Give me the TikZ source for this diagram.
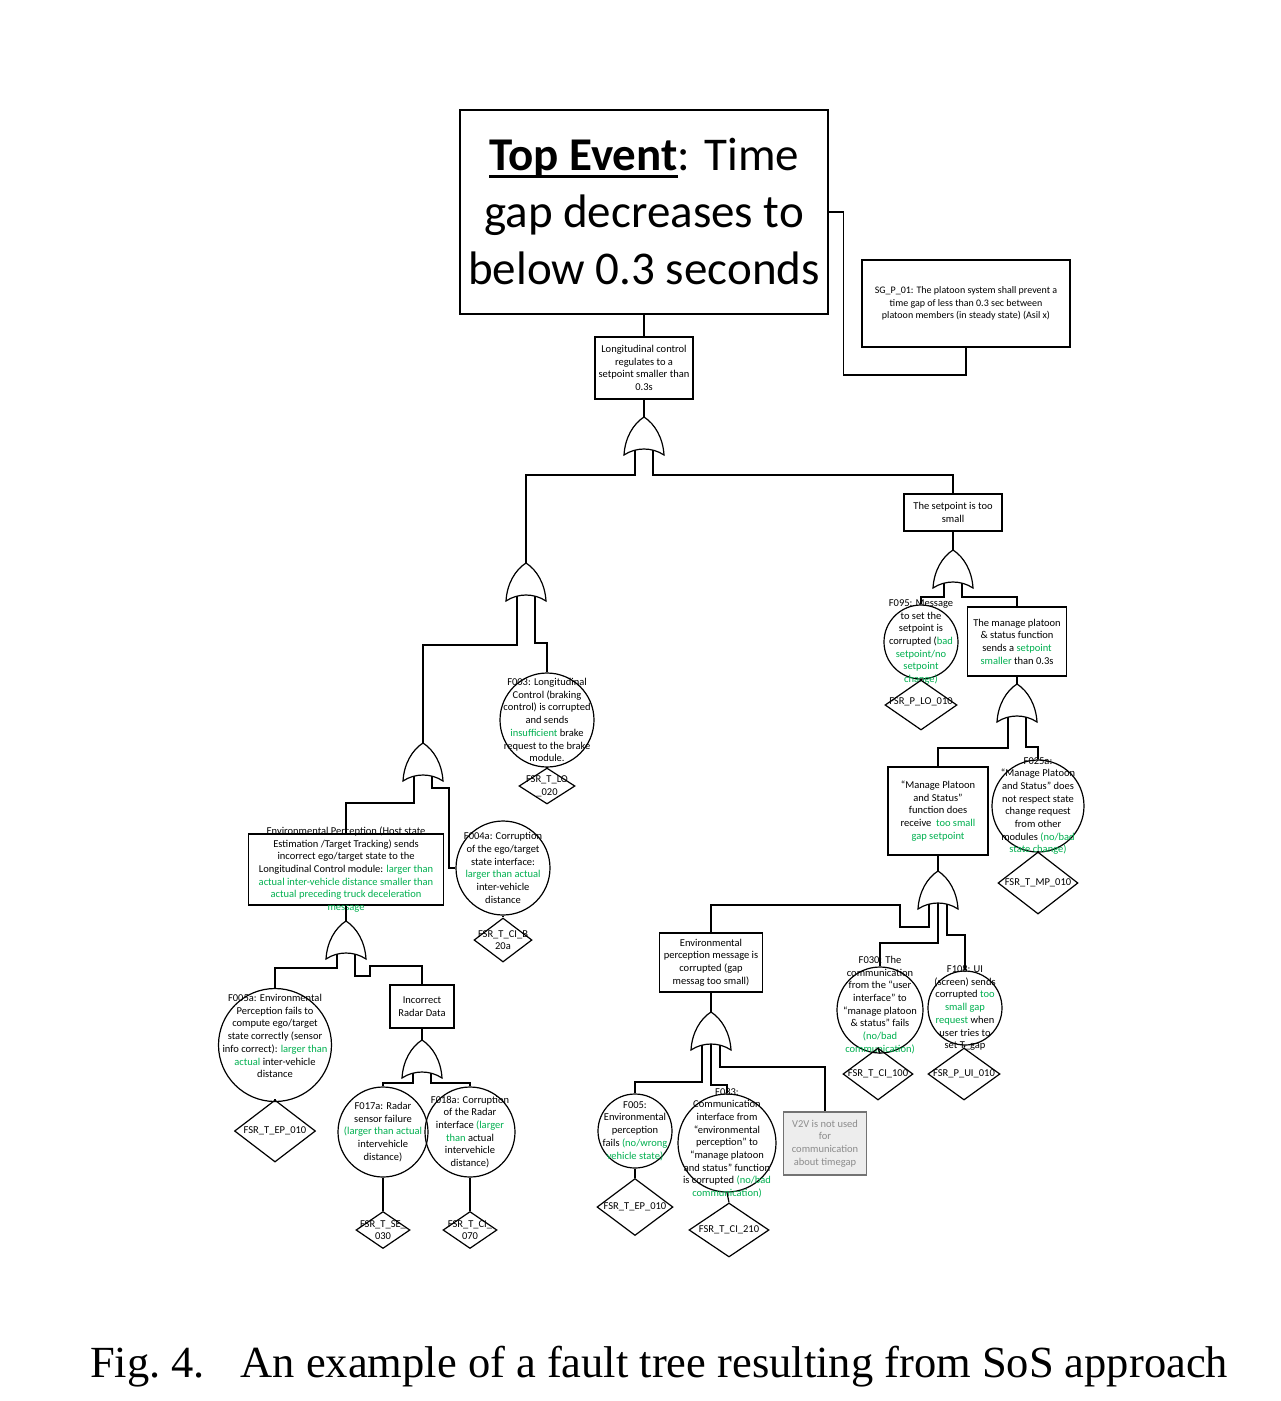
\documentclass[tikz,border=0pt]{standalone}
\usepackage{fontspec}
\setmainfont{Carlito}
\newfontfamily\capfont{Liberation Serif}
\usetikzlibrary{shapes.geometric}
\definecolor{fsgreen}{RGB}{0,176,80}
\definecolor{vgray}{RGB}{140,140,140}
\newcommand{\gn}[1]{\textcolor{fsgreen}{#1}}
\newcommand{\topul}[1]{\setbox0=\hbox{#1}\rlap{\rule[-7pt]{\wd0}{2.5pt}}\box0}
% OR gate: name, centre
\newcommand{\fgate}[2]{%
  \begin{scope}[shift={#2}]
    \draw[link, fill=white] (0,-19) .. controls (11,-12) and (19,2) .. (20,19)
      .. controls (8,11) and (-8,11) .. (-20,19)
      .. controls (-19,2) and (-11,-12) .. cycle;
    \coordinate (#1-o) at (0,-19);
    \coordinate (#1-a) at (-9,14);
    \coordinate (#1-c) at (0,13);
    \coordinate (#1-b) at (9,14);
  \end{scope}}

\tikzset{
  evbox/.style={draw, rectangle, line width=1.2pt, inner sep=0pt},
  evcirc/.style={draw, circle, line width=1.2pt, inner sep=0pt},
  evdia/.style={draw, diamond, line width=1.2pt, inner sep=0pt},
  evtxt/.style={align=center, inner sep=0pt, font=\fontsize{10.5}{12.7}\selectfont},
  link/.style={line width=1.2pt}
}

\begin{document}
\begin{tikzpicture}[x=1pt, y=-1pt]
\path[use as bounding box, fill=white] (0,0) rectangle (1281,1401);

% top event and safety goal
\node[evbox, minimum width=368pt, minimum height=204pt, align=center,
  font=\fontsize{47}{57}\selectfont] (top) at (644,212)
  {\topul{\textbf{Top Event}}: Time\\gap decreases to\\below 0.3 seconds};
\node[evbox, minimum width=208pt, minimum height=87pt,
  label={[evtxt, font=\fontsize{10}{12.5}\selectfont]center:{SG\_P\_01: The platoon system shall prevent a\\time gap of less than 0.3 sec between\\platoon members (in steady state) (Asil x)}}] (sg) at (966,303.5) {};
\node[evbox, minimum width=98pt, minimum height=62pt,
  label={[evtxt]center:{Longitudinal control\\regulates to a\\setpoint smaller than\\0.3s}}] (lc) at (644,368) {};
\fgate{g1}{(644,436)}

% left branch
\fgate{g2}{(526,582)}
\node[evcirc, minimum size=94pt,
  label={[evtxt]center:{F003: Longitudinal\\Control (braking\\control) is corrupted\\and sends\\\gn{insufficient} brake\\request to the brake\\module.}}] (f003) at (547,720) {};
\node[evdia, minimum width=56pt, minimum height=36pt,
  label={[evtxt]center:{FSR\_T\_LO\\\_020}}] (d003) at (547,786) {};
\fgate{g3}{(423,762)}
\node[evbox, minimum width=195pt, minimum height=71pt,
  label={[evtxt]center:{Environmental Perception (Host state\\Estimation /Target Tracking) sends\\incorrect ego/target state to the\\Longitudinal Control module: \gn{larger than}\\\gn{actual inter-vehicle distance smaller than}\\\gn{actual preceding truck deceleration}\\\gn{message}}}] (env) at (346,869.5) {};
\node[evcirc, minimum size=94pt,
  label={[evtxt]center:{F004a: Corruption\\of the ego/target\\state interface:\\\gn{larger than actual}\\inter-vehicle\\distance}}] (f004a) at (503,868) {};
\node[evdia, minimum width=58pt, minimum height=44pt,
  label={[evtxt]center:{FSR\_T\_CI\_B\\20a}}] (d004a) at (503,940) {};
\fgate{g4}{(346,940)}
\node[evcirc, minimum size=113pt,
  label={[evtxt, yshift=9pt]center:{F005a: Environmental\\Perception fails to\\compute ego/target\\state correctly (sensor\\info correct): \gn{larger than}\\\gn{actual} inter-vehicle\\distance}}] (f005a) at (275,1045) {};
\node[evdia, minimum width=81pt, minimum height=62pt,
  label={[evtxt]center:{FSR\_T\_EP\_010}}] (d005a) at (275,1131) {};
\node[evbox, minimum width=64pt, minimum height=43pt,
  label={[evtxt]center:{Incorrect\\Radar Data}}] (radar) at (422,1006.5) {};
\fgate{g5}{(422,1059)}
\node[evcirc, minimum size=90pt,
  label={[evtxt]center:{F017a: Radar\\sensor failure\\\gn{(larger than actual}\\intervehicle\\distance)}}] (f017a) at (383,1132) {};
\node[evcirc, minimum size=90pt,
  label={[evtxt]center:{F018a: Corruption\\of the Radar\\interface \gn{(larger}\\\gn{than} actual\\intervehicle\\distance)}}] (f018a) at (470,1132) {};
\node[evdia, minimum width=54pt, minimum height=37pt,
  label={[evtxt]center:{FSR\_T\_SE\_\\030}}] (d017a) at (383,1230) {};
\node[evdia, minimum width=54pt, minimum height=37pt,
  label={[evtxt]center:{FSR\_T\_CI\_\\070}}] (d018a) at (470,1230) {};

% right branch
\node[evbox, minimum width=98pt, minimum height=37pt,
  label={[evtxt]center:{The setpoint is too\\small}}] (sp) at (953,512.5) {};
\fgate{g6}{(953,569)}
\node[evcirc, minimum size=74pt,
  label={[evtxt]center:{F095: Message\\to set the\\setpoint is\\corrupted (\gn{bad}\\\gn{setpoint/no}\\\gn{setpoint}\\\gn{change)}}}] (f095) at (921,642) {};
\node[evdia, minimum width=72pt, minimum height=50pt,
  label={[evtxt, yshift=3pt]center:{FSR\_P\_LO\_010}}] (d095) at (921,705) {};
\node[evbox, minimum width=99pt, minimum height=69pt,
  label={[evtxt]center:{The manage platoon\\\& status function\\sends a \gn{setpoint}\\\gn{smaller} than 0.3s}}] (mp) at (1017,641.5) {};
\fgate{g7}{(1017,703)}
\node[evbox, minimum width=100pt, minimum height=88pt,
  label={[evtxt]center:{“Manage Platoon\\and Status”\\function does\\receive \ \gn{too small}\\\gn{gap setpoint}}}] (mps) at (938,811) {};
\node[evcirc, minimum size=92pt,
  label={[evtxt]center:{F025a:\\“Manage Platoon\\and Status” does\\not respect state\\change request\\from other\\modules \gn{(no/bad}\\\gn{state change)}}}] (f025a) at (1038,806) {};
\node[evdia, minimum width=80pt, minimum height=62pt,
  label={[evtxt]center:{FSR\_T\_MP\_010}}] (d025a) at (1038,883) {};
\fgate{g8}{(938,890)}
\node[evbox, minimum width=103pt, minimum height=59pt,
  label={[evtxt]center:{Environmental\\perception message is\\corrupted (gap\\messag too small)}}] (epm) at (711,962.5) {};
\node[evcirc, minimum size=86pt,
  label={[evtxt, yshift=5pt]center:{F030: The\\communication\\from the “user\\interface” to\\“manage platoon\\\& status” fails\\\gn{(no/bad}\\\gn{communication)}}}] (f030) at (880,1010) {};
\node[evdia, minimum width=70pt, minimum height=52pt,
  label={[evtxt]center:{FSR\_T\_CI\_100}}] (d030) at (878,1074) {};
\node[evcirc, minimum size=74pt,
  label={[evtxt]center:{F108: UI\\(screen) sends\\corrupted \gn{too}\\\gn{small gap}\\\gn{request} when\\user tries to\\set T\_gap}}] (f108) at (965,1008) {};
\node[evdia, minimum width=72pt, minimum height=52pt,
  label={[evtxt]center:{FSR\_P\_UI\_010}}] (d108) at (964,1074) {};
\fgate{g9}{(711,1031)}
\node[evcirc, minimum size=74pt,
  label={[evtxt]center:{F005:\\Environmental\\perception\\fails \gn{(no/wrong}\\\gn{vehicle state)}}}] (f005) at (635,1131) {};
\node[evdia, minimum width=76pt, minimum height=57pt,
  label={[evtxt]center:{FSR\_T\_EP\_010}}] (d005) at (635,1207) {};
\node[evcirc, minimum size=98pt,
  label={[evtxt]center:{F083:\\Communication\\interface from\\“environmental\\perception” to\\“manage platoon\\and status” function\\is corrupted \gn{(no/bad}\\\gn{communication)}}}] (f083) at (727,1143) {};
\node[evdia, minimum width=80pt, minimum height=54pt,
  label={[evtxt]center:{FSR\_T\_CI\_210}}] (d083) at (729,1230) {};
\node[evbox, draw=black!55, fill=black!7, minimum width=83pt, minimum height=63pt,
  label={[evtxt, text=vgray]center:{V2V is not used\\for\\communication\\about timegap}}] (v2v) at (825,1143.5) {};

% connectors
\draw[link] (top.south) -- (lc.north);
\draw[link] (top.east) -- ++(15,0) -- ++(0,163) -| (sg.south);
\draw[link] (lc.south) -- (g1-o);
\draw[link] (g1-a) -- (g1-a |- 0,475) -| (g2-o);
\draw[link] (g1-b) -- (g1-b |- 0,475) -| (sp.north);
\draw[link] (g2-a) -- (g2-a |- 0,645) -| (g3-o);
\draw[link] (g2-b) -- (g2-b |- 0,643) -| (f003.north);
\draw[link] (g3-a) -- (g3-a |- 0,803) -| (env.north);
\draw[link] (g3-b) -- (g3-b |- 0,788) -- (449,788) |- (f004a.west);
\draw[link] (env.south) -- (g4-o);
\draw[link] (g4-a) -- (g4-a |- 0,968) -| (f005a.north);
\draw[link] (g4-b) -- (g4-b |- 0,976) -- (370,976) -- (370,966) -| (radar.north);
\draw[link] (radar.south) -- (g5-o);
\draw[link] (g5-a) -- (g5-a |- 0,1083) -| (f017a.north);
\draw[link] (g5-b) -- (g5-b |- 0,1083) -| (f018a.north);
\draw[link] (sp.south) -- (g6-o);
\draw[link] (g6-a) -- (g6-a |- 0,597) -| (f095.north);
\draw[link] (g6-b) -- (g6-b |- 0,597) -| (mp.north);
\draw[link] (mp.south) -- (g7-o);
\draw[link] (g7-a) -- (g7-a |- 0,748) -| (mps.north);
\draw[link] (g7-b) -- (g7-b |- 0,747) -| (f025a.north);
\draw[link] (mps.south) -- (g8-o);
\draw[link] (g8-a) -- (g8-a |- 0,927) -- (900,927) -- (900,905) -| (epm.north);
\draw[link] (g8-c) -- (g8-c |- 0,943) -| (f030.north);
\draw[link] (g8-b) -- (g8-b |- 0,935) -| (f108.north);
\draw[link] (epm.south) -- (g9-o);
\draw[link] (g9-a) -- (g9-a |- 0,1082) -| (f005.north);
\draw[link] (g9-c) -- (g9-c |- 0,1085) -| (f083.north);
\draw[link] (g9-b) -- (g9-b |- 0,1067) -| (v2v.north);
\foreach \c/\d in {f003/d003, f004a/d004a, f005a/d005a, f017a/d017a, f018a/d018a,
  f095/d095, f025a/d025a, f030/d030, f108/d108, f005/d005, f083/d083}
  {\draw[link] (\c.south) -- (\d.north);}

% caption
\node[font=\capfont\fontsize{44.5}{46}\selectfont] (cap) at (659,1367)
  {Fig.~4.\hspace{0.8em}An example of a fault tree resulting from SoS approach};
\end{tikzpicture}
\end{document}
